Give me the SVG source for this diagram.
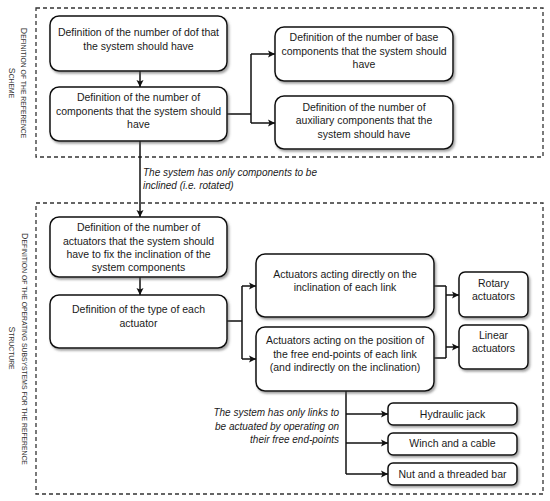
<svg xmlns="http://www.w3.org/2000/svg" width="550" height="501" viewBox="0 0 550 501">
<defs>
<filter id="sh" x="-10%" y="-10%" width="125%" height="135%">
<feDropShadow dx="1.5" dy="2" stdDeviation="1.2" flood-color="#555" flood-opacity="0.55"/>
</filter>
<marker id="ah" markerWidth="8" markerHeight="8" refX="7" refY="4" orient="auto" markerUnits="userSpaceOnUse">
<path d="M0,0.5 L7,4 L0,7.5 L1.5,4 Z" fill="#111"/>
</marker>
<style>
.box{fill:#fff;stroke:#111;stroke-width:1.5;filter:url(#sh)}
.t{font-family:"Liberation Sans",Arial,sans-serif;font-size:10.5px;fill:#1a1a1a;text-anchor:middle}
.it{font-family:"Liberation Sans",Arial,sans-serif;font-size:10px;font-style:italic;fill:#1a1a1a}
.side{font-family:"Liberation Sans",Arial,sans-serif;font-size:6.8px;fill:#333;text-anchor:middle}
.big{font-size:8.8px}
.frame{fill:none;stroke:#333;stroke-width:1.3;stroke-dasharray:4,3}
.c{fill:none;stroke:#111;stroke-width:1.5}
.ca{fill:none;stroke:#111;stroke-width:1.5;marker-end:url(#ah)}
</style>
</defs>
<rect width="550" height="501" fill="#fff"/>

<g id="frames">
<rect class="frame" x="36" y="8" width="507" height="149"/>
<rect class="frame" x="36" y="203" width="507" height="291"/>
<text class="side" transform="translate(23,83) rotate(90)" y="2.5"><tspan class="big">D</tspan>EFINITION OF THE REFERENCE</text>
<text class="side" transform="translate(11,83) rotate(90)" y="2.5"><tspan class="big">S</tspan>CHEME</text>
<text class="side" transform="translate(24,349) rotate(90)" y="2.5"><tspan class="big">D</tspan>EFINITION OF THE OPERATING SUBSYSTEMS FOR THE REFERENCE</text>
<text class="side" transform="translate(11,348) rotate(90)" y="2.5"><tspan class="big">S</tspan>TRUCTURE</text>
</g>

<g id="connectors">
<path class="ca" d="M140,71 V87"/>
<path class="c" d="M227,114 H251 M251,54 V123"/>
<path class="ca" d="M251,54 H275"/>
<path class="ca" d="M251,123 H275"/>
<path class="ca" d="M140,141 V217"/>
<path class="ca" d="M140,277 V295"/>
<path class="c" d="M227,321 H242 M242,286 V359"/>
<path class="ca" d="M242,286 H256"/>
<path class="ca" d="M242,359 H256"/>
<path class="c" d="M434,286 H446 M434,358 H446 M446,286 V358"/>
<path class="ca" d="M446,295 H459"/>
<path class="ca" d="M446,347 H459"/>
<path class="c" d="M346,391 V474"/>
<path class="ca" d="M346,414 H388"/>
<path class="ca" d="M346,443 H388"/>
<path class="ca" d="M346,474 H388"/>
<text class="it" x="143" y="176">The system has only components to be</text>
<text class="it" x="143" y="189">inclined (i.e. rotated)</text>
<text class="it" x="339" y="416" text-anchor="end">The system has only links to</text>
<text class="it" x="339" y="430" text-anchor="end">be actuated by operating on</text>
<text class="it" x="339" y="443" text-anchor="end">their free end-points</text>
</g>

<g id="n-dof">
<rect class="box" x="50" y="16" width="177" height="55" rx="9"/>
<text class="t" x="138.5" y="36">Definition of the number of dof that</text>
<text class="t" x="138.5" y="49.5">the system should have</text>
</g>
<g id="n-components">
<rect class="box" x="50" y="87" width="177" height="54" rx="9"/>
<text class="t" x="138.5" y="101">Definition of the number of</text>
<text class="t" x="138.5" y="114.5">components that the system should</text>
<text class="t" x="138.5" y="128">have</text>
</g>
<g id="n-base">
<rect class="box" x="275" y="27" width="178" height="54" rx="9"/>
<text class="t" x="364" y="41">Definition of the number of base</text>
<text class="t" x="364" y="54.5">components that the system should</text>
<text class="t" x="364" y="68">have</text>
</g>
<g id="n-aux">
<rect class="box" x="275" y="96" width="178" height="53" rx="9"/>
<text class="t" x="364" y="111">Definition of the number of</text>
<text class="t" x="364" y="124">auxiliary components that the</text>
<text class="t" x="364" y="137.5">system should have</text>
</g>
<g id="n-actuators">
<rect class="box" x="50" y="217" width="177" height="60" rx="9"/>
<text class="t" x="138.5" y="231">Definition of the number of</text>
<text class="t" x="138.5" y="244.5">actuators that the system should</text>
<text class="t" x="138.5" y="258">have to fix the inclination of the</text>
<text class="t" x="138.5" y="271">system components</text>
</g>
<g id="n-type">
<rect class="box" x="50" y="295" width="177" height="53" rx="9"/>
<text class="t" x="138.5" y="313">Definition of the type of each</text>
<text class="t" x="138.5" y="327">actuator</text>
</g>
<g id="n-direct">
<rect class="box" x="256" y="254" width="178" height="63" rx="9"/>
<text class="t" x="345" y="278">Actuators acting directly on the</text>
<text class="t" x="345" y="291">inclination of each link</text>
</g>
<g id="n-position">
<rect class="box" x="256" y="327" width="178" height="64" rx="9"/>
<text class="t" x="345" y="344">Actuators acting on the position of</text>
<text class="t" x="345" y="357.5">the free end-points of each link</text>
<text class="t" x="345" y="371">(and indirectly on the inclination)</text>
</g>
<g id="n-rotary">
<rect class="box" x="459" y="272" width="69" height="45" rx="6"/>
<text class="t" x="493.5" y="287">Rotary</text>
<text class="t" x="493.5" y="300">actuators</text>
</g>
<g id="n-linear">
<rect class="box" x="459" y="325" width="69" height="44" rx="6"/>
<text class="t" x="493.5" y="339">Linear</text>
<text class="t" x="493.5" y="352">actuators</text>
</g>
<g id="n-hydraulic">
<rect class="box" x="388" y="403" width="129" height="22" rx="5"/>
<text class="t" x="452.5" y="418">Hydraulic jack</text>
</g>
<g id="n-winch">
<rect class="box" x="388" y="433" width="129" height="22" rx="5"/>
<text class="t" x="452.5" y="447">Winch and a cable</text>
</g>
<g id="n-nut">
<rect class="box" x="388" y="463" width="129" height="22" rx="5"/>
<text class="t" x="452.5" y="478">Nut and a threaded bar</text>
</g>
</svg>
